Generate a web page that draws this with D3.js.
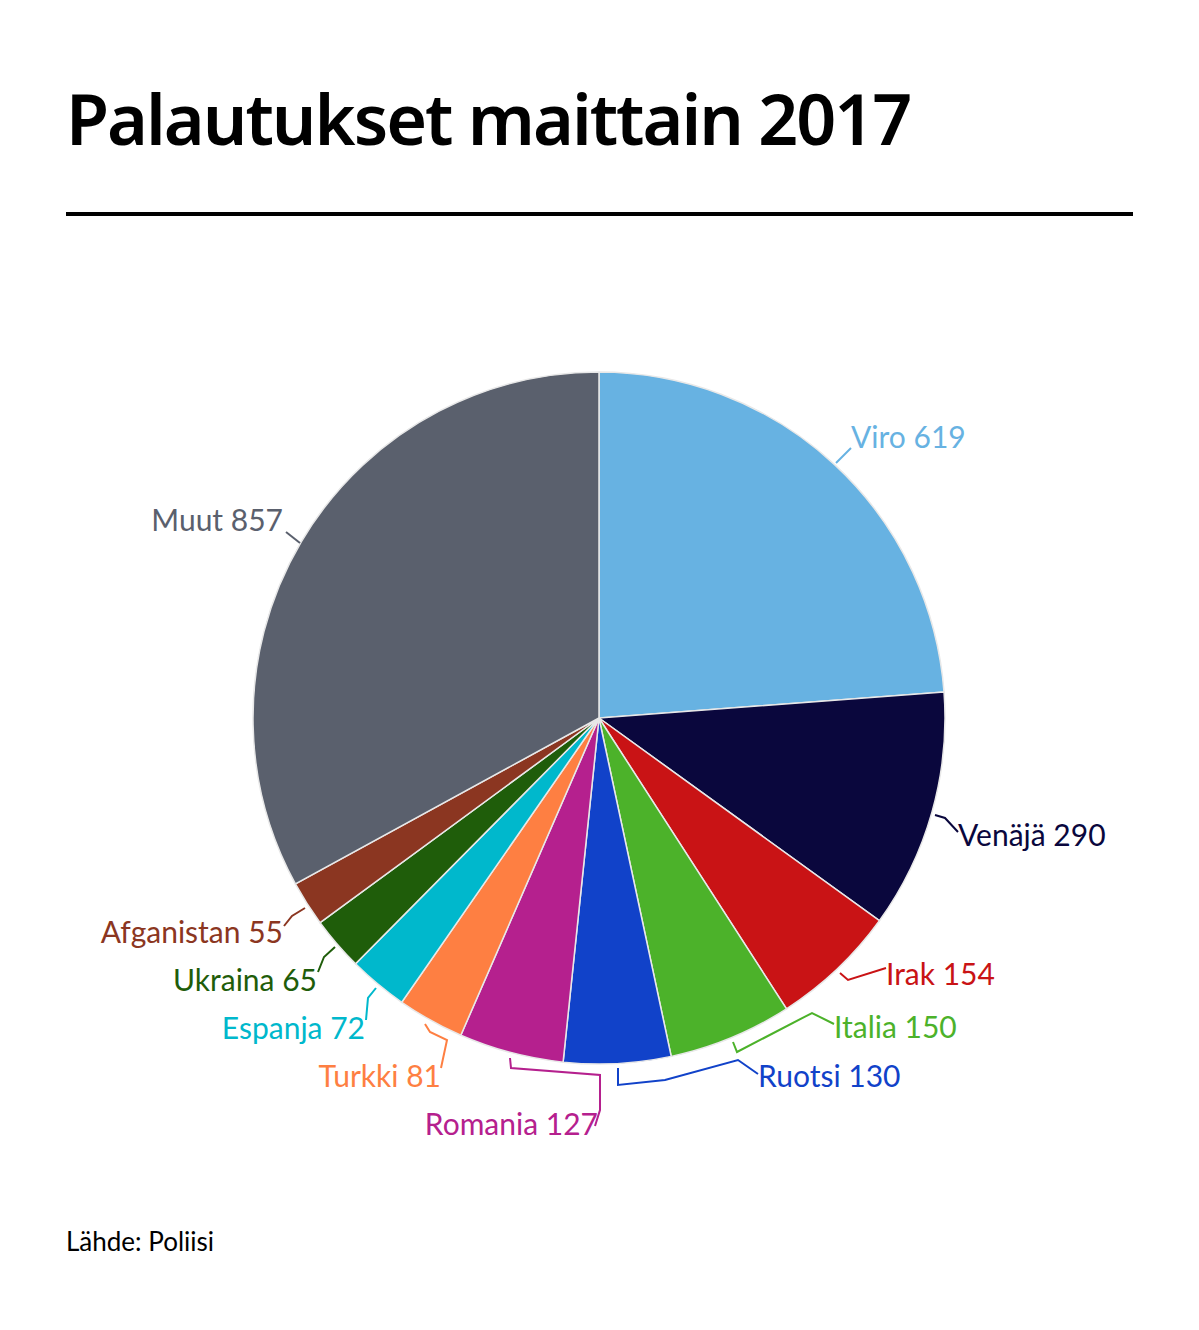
<!DOCTYPE html>
<html><head><meta charset="utf-8">
<script src="https://cdn.jsdelivr.net/npm/d3@7"></script>
<style>body{margin:0;background:#fff}</style>
</head><body><svg id="chart" width="1199" height="1330"></svg>
<script>
const countries = ['Viro','Venäjä','Irak','Italia','Ruotsi','Romania','Turkki','Espanja','Ukraina','Afganistan','Muut'];
const values = [619,290,154,150,130,127,81,72,65,55,857];
const colors = ['#67b2e2','#0a073d','#c91315','#4cb22a','#1142c9','#b5208e','#fe7f42','#00b8cc','#1f5d0a','#8b3621','#5a606d'];
// label layout: text anchor point, anchor side, leader path points relative to layout
const labelPos = [
  {x:851,y:448,a:'start',pts:[[836,463],[851,448]]},
  {x:958,y:846,a:'start',pts:[[935,815],[945,818],[958,832]]},
  {x:886,y:985,a:'start',pts:[[840,973],[848,980],[886,968]]},
  {x:834,y:1038,a:'start',pts:[[733,1042],[737,1052],[812,1013],[834,1024]]},
  {x:758,y:1087,a:'start',pts:[[618,1068],[618,1085],[665,1080],[738,1060],[758,1074]]},
  {x:598,y:1135,a:'end',pts:[[510,1058],[511,1068],[600,1075],[600,1110],[595,1126]]},
  {x:441,y:1087,a:'end',pts:[[425,1024],[430,1032],[447,1040],[441,1068]]},
  {x:365,y:1039,a:'end',pts:[[376,988],[368,998],[366,1020]]},
  {x:317,y:991,a:'end',pts:[[335,947],[324,957],[318,972]]},
  {x:283,y:943,a:'end',pts:[[305,908],[292,916],[284,926]]},
  {x:283,y:531,a:'end',pts:[[300,543],[286,532]]}
];
const svg = d3.select('#chart');
svg.append('text').attr('x',66).attr('y',145).attr('font-family','Noto Sans').attr('font-weight',600)
  .attr('font-size',70).attr('letter-spacing',-2).attr('fill','#000').text('Palautukset maittain 2017');
svg.append('rect').attr('x',66).attr('y',212).attr('width',1067).attr('height',4).attr('fill','#000');
const cx=599, cy=718, r=346;
const pie = d3.pie().sort(null).value(d=>d)(values);
const arc = d3.arc().innerRadius(0).outerRadius(r);
const g = svg.append('g').attr('transform',`translate(${cx},${cy})`);
g.selectAll('path').data(pie).enter().append('path').attr('d',arc)
  .attr('fill',(d,i)=>colors[i]).attr('stroke','#e8e8e8').attr('stroke-width',1.5);
const line = d3.line().curve(d3.curveLinear);
svg.selectAll('.leader').data(labelPos).enter().append('path').attr('class','leader')
  .attr('d',d=>line(d.pts)).attr('fill','none').attr('stroke',(d,i)=>colors[i]).attr('stroke-width',2);
svg.selectAll('.lab').data(labelPos).enter().append('text').attr('class','lab')
  .attr('x',d=>d.x).attr('y',d=>d.y).attr('text-anchor',d=>d.a)
  .attr('font-family','Lato').attr('font-size',30).attr('fill',(d,i)=>colors[i])
  .text((d,i)=>`${countries[i]} ${values[i]}`);
svg.append('text').attr('x',66).attr('y',1251).attr('font-family','Lato').attr('font-size',26)
  .attr('fill','#000').text('Lähde: Poliisi');
</script></body></html>
